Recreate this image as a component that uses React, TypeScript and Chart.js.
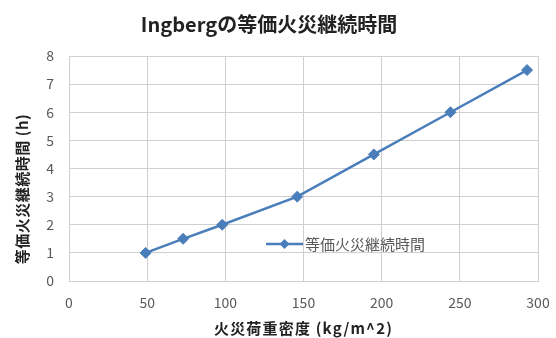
import React, { useEffect, useRef } from "react";
import { Chart, registerables } from "chart.js";

Chart.register(...registerables);

const chartTitle = "Ingbergの等価火災継続時間";
const seriesName = "等価火災継続時間";
const xAxisTitle = "火災荷重密度 (kg/m^2)";
const yAxisTitle = "等価火災継続時間 (h)";
const fireLoad = [49, 73, 98, 146, 195, 244, 293];
const duration = [1, 1.5, 2, 3, 4.5, 6, 7.5];
const xTicks = [0, 50, 100, 150, 200, 250, 300];
const yTicks = [0, 1, 2, 3, 4, 5, 6, 7, 8];

const FONT = '"Noto Sans CJK JP", "Noto Sans", sans-serif';
const BLUE = "#4a7ebb";
const GRID = "#cfcfcf";
const TICK = "#595959";

const overlay = {
  id: "overlay",
  afterDatasetsDraw(chart: any) {
    const { ctx, chartArea } = chart;
    ctx.save();
    // legend
    const ly = 244;
    const lx0 = 266;
    const lx1 = 303;
    ctx.strokeStyle = BLUE;
    ctx.lineWidth = 2.5;
    ctx.beginPath();
    ctx.moveTo(lx0, ly);
    ctx.lineTo(lx1, ly);
    ctx.stroke();
    ctx.fillStyle = BLUE;
    const mx = (lx0 + lx1) / 2;
    const r = 5;
    ctx.beginPath();
    ctx.moveTo(mx, ly - r);
    ctx.lineTo(mx + r, ly);
    ctx.lineTo(mx, ly + r);
    ctx.lineTo(mx - r, ly);
    ctx.closePath();
    ctx.fill();
    ctx.fillStyle = TICK;
    ctx.font = `15px ${FONT}`;
    ctx.textAlign = "left";
    ctx.textBaseline = "middle";
    ctx.fillText(seriesName, 305, ly);

    // axis titles
    ctx.fillStyle = "#222";
    ctx.font = `bold 15px ${FONT}`;
    ctx.textAlign = "center";
    ctx.textBaseline = "middle";
    (ctx as any).letterSpacing = "1.2px";
    ctx.fillText(xAxisTitle, (chartArea.left + chartArea.right) / 2, 328);
    ctx.translate(22, 189);
    ctx.rotate(-Math.PI / 2);
    (ctx as any).letterSpacing = "0.5px";
    ctx.fillText(yAxisTitle, 0, 0);
    ctx.restore();
  },
};

export default function App() {
  const ref = useRef<HTMLCanvasElement>(null);
  useEffect(() => {
    document.body.style.margin = "0";
    const chart = new Chart(ref.current!, {
      type: "line",
      data: {
        datasets: [
          {
            label: seriesName,
            data: fireLoad.map((x, i) => ({ x, y: duration[i] })),
            borderColor: BLUE,
            backgroundColor: BLUE,
            borderWidth: 2.5,
            pointStyle: "rectRot",
            pointRadius: 5.5,
            pointBorderWidth: 1,
            tension: 0,
          },
        ],
      },
      options: {
        responsive: false,
        animation: false,
        layout: { padding: { left: 0, right: 18, top: 0, bottom: 0 } },
        plugins: {
          legend: { display: false },
          tooltip: { enabled: false },
          title: {
            display: true,
            text: chartTitle,
            color: "#222",
            font: { family: FONT, size: 20, weight: "bold", lineHeight: 1.2 },
            padding: { top: 12, bottom: 20 },
          },
        },
        scales: {
          x: {
            type: "linear",
            min: 0,
            max: 300,
            afterBuildTicks: (s: any) => {
              s.ticks = xTicks.map((v) => ({ value: v }));
            },
            afterFit: (s: any) => {
              s.height = 338 - 281;
              s.paddingLeft = 0;
              s.paddingRight = 0;
            },
            grid: { color: GRID, drawTicks: false, lineWidth: 1 },
            border: { color: GRID },
            ticks: {
              color: TICK,
              padding: 13,
              font: { family: FONT, size: 14 },
              maxRotation: 0,
            },
          },
          y: {
            type: "linear",
            min: 0,
            max: 8,
            afterBuildTicks: (s: any) => {
              s.ticks = yTicks.map((v) => ({ value: v }));
            },
            afterFit: (s: any) => {
              s.width = 69;
            },
            grid: { color: GRID, drawTicks: false, lineWidth: 1 },
            border: { color: GRID },
            ticks: {
              color: TICK,
              padding: 15,
              font: { family: FONT, size: 14 },
            },
          },
        },
      },
      plugins: [overlay],
    });
    return () => chart.destroy();
  }, []);
  return (
    <div style={{ width: 556, height: 338 }}>
      <canvas ref={ref} width={556} height={338} />
    </div>
  );
}
